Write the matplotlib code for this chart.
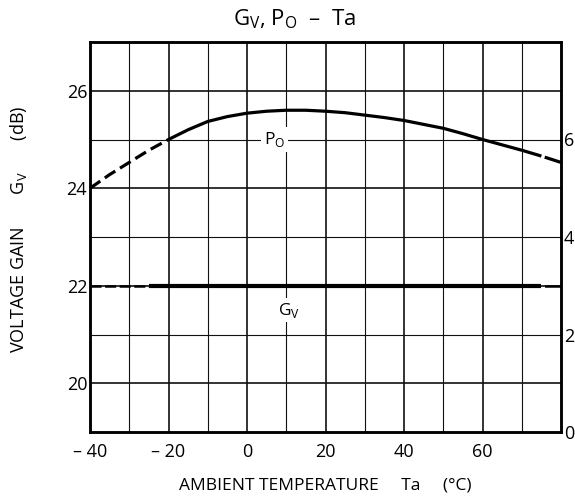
import matplotlib
matplotlib.use("Agg")
import matplotlib.pyplot as plt
import numpy as np

plt.rcParams['font.family'] = ['Open Sans', 'DejaVu Sans']
plt.rcParams['mathtext.fontset'] = 'custom'
plt.rcParams['mathtext.rm'] = 'Open Sans'
plt.rcParams['lines.scale_dashes'] = False

# Ambient temperature (°C) and voltage gain (dB)
ta = [-40, -35, -30, -25, -20, -15, -10, -5, 0, 5, 10, 15, 20, 25, 30, 35,
      40, 45, 50, 55, 60, 65, 70, 75, 80]
gv = [22.0] * len(ta)
# Output power on the right-hand scale
po = [5.00, 5.28, 5.53, 5.78, 6.00, 6.20, 6.37, 6.47, 6.54, 6.58, 6.60, 6.60,
      6.58, 6.55, 6.50, 6.45, 6.39, 6.31, 6.23, 6.12, 6.00, 5.89, 5.78, 5.66, 5.53]

x_ticks = [-40, -20, 0, 20, 40, 60]
x_tick_labels = ['\u2013 40', '\u2013 20', '0', '20', '40', '60']
gv_ticks = [20, 22, 24, 26]
po_ticks = [0, 2, 4, 6]

fig = plt.figure(figsize=(5.75, 5.0), dpi=100)
ax = fig.add_axes([90 / 575, 68 / 500, 471 / 575, 390 / 500])
ax2 = ax.twinx()

ax.set_xlim(-40, 80)
ax.set_ylim(19, 27)
ax2.set_ylim(0, 8)

# grid: heavier lines on labelled values, lighter in between
for xv in range(-30, 80, 10):
    lw = 1.2 if xv % 20 == 0 else 0.8
    ax.axvline(xv, color='#111111', lw=lw, zorder=1)
for yv in range(20, 27):
    lw = 1.2 if yv % 2 == 0 else 0.8
    ax.axhline(yv, color='#111111', lw=lw, zorder=1)

ta_a = np.array(ta)
gv_a = np.array(gv)
po_a = np.array(po)

# Gv line: light dashes at the ends, heavy line across the middle
m = ta_a <= -25
ax.plot(ta_a[m], gv_a[m], color='black', lw=1.8, ls=(0, (8, 2.5)), zorder=3,
        dash_capstyle='butt')
m = (ta_a >= -25) & (ta_a <= 75)
ax.plot(ta_a[m], gv_a[m], color='black', lw=3.0, zorder=3, solid_capstyle='butt')
m = ta_a >= 75
ax.plot(ta_a[m], gv_a[m], color='black', lw=1.8, ls=(0, (0.001, 2.5, 30, 1)),
        zorder=3, dash_capstyle='butt')

# Po curve: dashed at the extremes
m = ta_a <= -20
ax2.plot(ta_a[m], po_a[m], color='black', lw=2.3, ls=(0, (9, 4)), zorder=3,
         dash_capstyle='butt')
m = (ta_a >= -20) & (ta_a <= 75)
ax2.plot(ta_a[m], po_a[m], color='black', lw=2.3, zorder=3, solid_capstyle='butt')
m = ta_a >= 75
ax2.plot(ta_a[m], po_a[m], color='black', lw=2.3, ls=(0, (0.001, 2.5, 30, 1)),
         zorder=3, dash_capstyle='butt')

ax2.text(7.0, 6.0, r'P$_\mathregular{O}$', fontsize=12.5, ha='center', va='center',
         zorder=4, bbox=dict(facecolor='white', edgecolor='none', pad=2))
ax.text(10.7, 21.5, r'G$_\mathregular{V}$', fontsize=12.5, ha='center', va='center',
        zorder=4, bbox=dict(facecolor='white', edgecolor='none', pad=2))

ax.set_xticks(x_ticks)
ax.set_xticklabels(x_tick_labels)
ax.set_yticks(gv_ticks)
ax2.set_yticks(po_ticks)
ax.tick_params(axis='both', length=0, labelsize=13)
ax.tick_params(axis='x', pad=8)
ax.tick_params(axis='y', pad=2)
ax2.tick_params(axis='y', length=0, labelsize=13, pad=2)
ax.grid(False)
ax2.grid(False)

for a in (ax, ax2):
    for s in a.spines.values():
        s.set_linewidth(1.8)
        s.set_zorder(5)

ax.set_xlabel('AMBIENT TEMPERATURE     Ta     (\u00b0C)', fontsize=12.5, labelpad=12)
ax.set_ylabel('VOLTAGE GAIN       G$_\\mathregular{V}$       (dB)', fontsize=13)
ax.yaxis.set_label_coords(-0.13, 0.52)

fig.text(0.512, 0.962, 'G$_\\mathregular{V}$, P$_\\mathregular{O}$  \u2013  Ta',
         fontsize=16, ha='center', va='center')

fig.savefig('out.png', dpi=100)
